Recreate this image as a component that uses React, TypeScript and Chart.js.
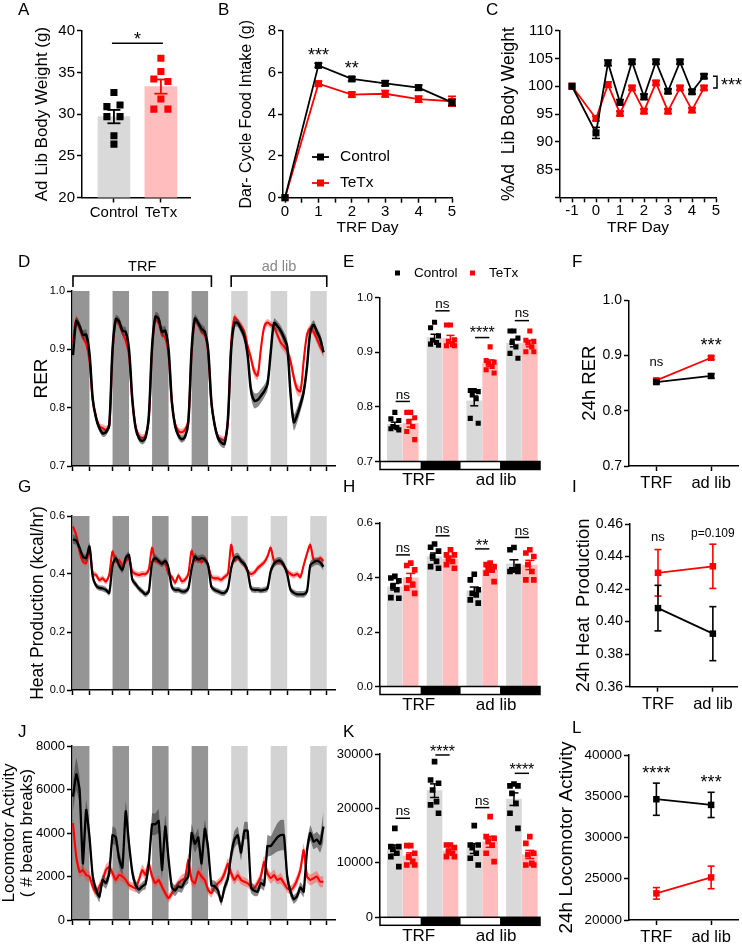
import React, { useEffect, useRef } from 'react';
import { Chart, registerables } from 'chart.js';

Chart.register(...registerables);

const FONT = "'Liberation Sans', Arial, Helvetica, sans-serif";
Chart.defaults.font.family = FONT;
Chart.defaults.color = '#000';

const BLACK = '#000000';
const RED = '#ff0000';
const GRAY_BAR = '#d9d9d9';
const PINK_BAR = '#ffbdbd';
const DARK_BAND = '#959595';
const LIGHT_BAND = '#d3d3d3';
const BLACK_SEM = 'rgba(60,60,60,0.6)';
const RED_SEM = 'rgba(255,60,60,0.45)';

// ---------------- Panel A ----------------
const A_CATS = ['Control', 'TeTx'];
const A_MEAN = [29.7, 33.3];
const A_SEM = [0.8, 0.85];
const A_CTRL = [32.6, 30.9, 31.1, 29.7, 29.7, 27.4, 26.4];
const A_TETX = [36.7, 35.1, 34.2, 33.9, 31.8, 30.6, 30.6];
const A_CTRL_JIT = [0, -0.15, 0.13, -0.15, 0.13, 0, 0];
const A_TETX_JIT = [0, 0, -0.15, 0.15, 0, -0.15, 0.15];
const A_TICKS = [20, 25, 30, 35, 40];

// ---------------- Panel B ----------------
const B_DAYS = [0, 1, 2, 3, 4, 5];
const B_CTRL = [0, 6.34, 5.69, 5.48, 5.27, 4.57];
const B_CTRL_SEM = [0, 0.1, 0.1, 0.12, 0.12, 0.15];
const B_TETX = [0, 5.46, 4.94, 4.98, 4.72, 4.62];
const B_TETX_SEM = [0, 0.12, 0.12, 0.16, 0.15, 0.24];
const B_YTICKS = [0, 2, 4, 6, 8];
const B_XTICKS = [0, 0.5, 1, 1.5, 2, 2.5, 3, 3.5, 4, 4.5, 5];
const B_SIG_X = [1, 2];
const B_SIG_Y = [7.0, 6.35];
const B_SIG = ['***', '**'];

// ---------------- Panel C ----------------
const C_DAYS = [-1, 0, 0.5, 1, 1.5, 2, 2.5, 3, 3.5, 4, 4.5];
const C_CTRL = [100, 91.6, 104.2, 97.1, 104.4, 98.1, 104.4, 99.1, 104.4, 99.0, 101.8];
const C_CTRL_SEM = [0, 1.0, 0.5, 0.5, 0.4, 0.5, 0.4, 0.4, 0.4, 0.4, 0.4];
const C_TETX = [100, 94.2, 100.3, 95.1, 99.7, 95.5, 100.6, 95.5, 99.7, 95.7, 99.7];
const C_TETX_SEM = [0, 0.4, 0.5, 0.4, 0.4, 0.4, 0.4, 0.4, 0.4, 0.4, 0.4];
const C_YTICKS = [80, 85, 90, 95, 100, 105, 110];
const C_XTICKS = [-1.5, -1, -0.5, 0, 0.5, 1, 1.5, 2, 2.5, 3, 3.5, 4, 4.5, 5];

// ---------------- Time series (D, G, J) ----------------
const HOURS = Array.from({ length: 77 }, (_, i) => i * 2);
const BAND_STARTS = [0, 24, 48, 72, 96, 120, 144];
const BAND_HOURS = 10;
const TRF_BANDS = 4;
const BAND_EDGES = BAND_STARTS.flatMap((s) => [s, s + BAND_HOURS]);
const TRF_SPAN = [0, 84];
const ADLIB_SPAN = [96, 154];

const C_RER = [
  0.890, 0.948, 0.940, 0.925, 0.925, 0.893, 0.815, 0.782, 0.765, 0.756, 0.758, 0.770,
  0.900, 0.952, 0.948, 0.932, 0.930, 0.900, 0.815, 0.765, 0.748, 0.743, 0.748, 0.785,
  0.905, 0.956, 0.952, 0.930, 0.932, 0.900, 0.810, 0.768, 0.752, 0.746, 0.750, 0.775,
  0.900, 0.953, 0.945, 0.935, 0.930, 0.900, 0.810, 0.770, 0.748, 0.740, 0.738, 0.780,
  0.900, 0.945, 0.945, 0.935, 0.922, 0.890, 0.830, 0.812, 0.813, 0.820, 0.828, 0.840,
  0.895, 0.945, 0.940, 0.932, 0.920, 0.905, 0.825, 0.775, 0.787, 0.805, 0.827, 0.870,
  0.930, 0.942, 0.930, 0.918, 0.895,
];
const C_RER_SEM = [
  0.008, 0.008, 0.008, 0.008, 0.009, 0.009, 0.008, 0.007, 0.006, 0.006, 0.006, 0.006,
  0.008, 0.007, 0.007, 0.008, 0.008, 0.008, 0.007, 0.006, 0.006, 0.006, 0.006, 0.006,
  0.008, 0.008, 0.009, 0.009, 0.008, 0.008, 0.007, 0.006, 0.006, 0.006, 0.006, 0.006,
  0.008, 0.007, 0.007, 0.008, 0.008, 0.008, 0.007, 0.007, 0.007, 0.007, 0.007, 0.007,
  0.008, 0.007, 0.007, 0.008, 0.009, 0.010, 0.012, 0.013, 0.012, 0.012, 0.011, 0.011,
  0.009, 0.008, 0.008, 0.009, 0.010, 0.012, 0.013, 0.014, 0.013, 0.012, 0.012, 0.011,
  0.009, 0.008, 0.008, 0.009, 0.010,
];
const T_RER = [
  0.912, 0.952, 0.935, 0.920, 0.910, 0.880, 0.812, 0.785, 0.768, 0.765, 0.762, 0.768,
  0.895, 0.950, 0.942, 0.928, 0.915, 0.890, 0.812, 0.768, 0.752, 0.748, 0.752, 0.780,
  0.900, 0.952, 0.945, 0.925, 0.920, 0.890, 0.810, 0.772, 0.760, 0.758, 0.762, 0.778,
  0.895, 0.950, 0.942, 0.930, 0.925, 0.895, 0.808, 0.770, 0.750, 0.746, 0.745, 0.775,
  0.910, 0.955, 0.948, 0.940, 0.930, 0.905, 0.885, 0.862, 0.855, 0.900, 0.938, 0.946,
  0.942, 0.938, 0.925, 0.912, 0.905, 0.897, 0.880, 0.852, 0.832, 0.828, 0.880, 0.925,
  0.936, 0.930, 0.918, 0.905, 0.895,
];
const T_RER_SEM = [
  0.007, 0.007, 0.006, 0.006, 0.006, 0.007, 0.007, 0.006, 0.006, 0.006, 0.007, 0.006,
  0.006, 0.006, 0.006, 0.006, 0.006, 0.006, 0.006, 0.006, 0.006, 0.006, 0.006, 0.006,
  0.006, 0.006, 0.006, 0.006, 0.006, 0.006, 0.006, 0.006, 0.006, 0.006, 0.006, 0.006,
  0.006, 0.006, 0.006, 0.006, 0.006, 0.006, 0.006, 0.006, 0.006, 0.006, 0.006, 0.006,
  0.006, 0.006, 0.006, 0.007, 0.007, 0.008, 0.009, 0.009, 0.008, 0.007, 0.007, 0.006,
  0.006, 0.006, 0.007, 0.008, 0.009, 0.009, 0.010, 0.010, 0.010, 0.009, 0.008, 0.007,
  0.007, 0.007, 0.008, 0.008, 0.008,
];

const C_HEAT = [
  0.520, 0.515, 0.490, 0.460, 0.455, 0.495, 0.390, 0.360, 0.352, 0.350, 0.345, 0.335,
  0.430, 0.455, 0.430, 0.415, 0.455, 0.465, 0.380, 0.365, 0.350, 0.340, 0.330, 0.340,
  0.440, 0.455, 0.445, 0.435, 0.445, 0.420, 0.355, 0.345, 0.345, 0.340, 0.340, 0.350,
  0.420, 0.460, 0.450, 0.455, 0.450, 0.430, 0.355, 0.345, 0.340, 0.335, 0.335, 0.350,
  0.420, 0.455, 0.460, 0.445, 0.435, 0.410, 0.350, 0.345, 0.345, 0.343, 0.345, 0.350,
  0.410, 0.435, 0.445, 0.445, 0.430, 0.400, 0.345, 0.335, 0.330, 0.330, 0.330, 0.340,
  0.430, 0.440, 0.445, 0.440, 0.425,
];
const C_HEAT_SEM = [
  0.016, 0.015, 0.013, 0.012, 0.012, 0.014, 0.011, 0.010, 0.010, 0.010, 0.010, 0.010,
  0.012, 0.012, 0.012, 0.012, 0.012, 0.012, 0.011, 0.011, 0.010, 0.010, 0.010, 0.010,
  0.012, 0.012, 0.012, 0.012, 0.012, 0.012, 0.010, 0.010, 0.010, 0.010, 0.010, 0.010,
  0.012, 0.013, 0.013, 0.013, 0.013, 0.012, 0.010, 0.010, 0.010, 0.010, 0.010, 0.010,
  0.012, 0.013, 0.013, 0.013, 0.012, 0.012, 0.010, 0.010, 0.010, 0.010, 0.010, 0.011,
  0.012, 0.013, 0.013, 0.013, 0.012, 0.012, 0.011, 0.011, 0.011, 0.011, 0.011, 0.011,
  0.013, 0.013, 0.013, 0.013, 0.013,
];
const T_HEAT = [
  0.563, 0.534, 0.477, 0.443, 0.437, 0.489, 0.400, 0.397, 0.379, 0.385, 0.374, 0.397,
  0.477, 0.443, 0.448, 0.431, 0.443, 0.454, 0.408, 0.400, 0.397, 0.400, 0.400, 0.415,
  0.490, 0.445, 0.440, 0.440, 0.435, 0.400, 0.390, 0.370, 0.395, 0.375, 0.380, 0.400,
  0.480, 0.445, 0.455, 0.440, 0.455, 0.430, 0.390, 0.385, 0.385, 0.380, 0.390, 0.400,
  0.500, 0.445, 0.455, 0.445, 0.430, 0.410, 0.400, 0.405, 0.420, 0.430, 0.440, 0.460,
  0.490, 0.445, 0.440, 0.440, 0.430, 0.410, 0.400, 0.395, 0.400, 0.390, 0.430, 0.470,
  0.500, 0.450, 0.445, 0.455, 0.445,
];
const T_HEAT_SEM = [
  0.014, 0.012, 0.011, 0.010, 0.010, 0.011, 0.010, 0.010, 0.010, 0.010, 0.010, 0.010,
  0.011, 0.010, 0.010, 0.010, 0.010, 0.010, 0.010, 0.010, 0.010, 0.010, 0.010, 0.010,
  0.011, 0.010, 0.010, 0.010, 0.010, 0.010, 0.010, 0.010, 0.010, 0.010, 0.010, 0.010,
  0.011, 0.010, 0.010, 0.010, 0.010, 0.010, 0.010, 0.010, 0.010, 0.010, 0.010, 0.010,
  0.011, 0.010, 0.010, 0.010, 0.010, 0.010, 0.010, 0.010, 0.010, 0.010, 0.010, 0.011,
  0.011, 0.010, 0.010, 0.010, 0.010, 0.010, 0.010, 0.010, 0.010, 0.010, 0.010, 0.011,
  0.011, 0.010, 0.010, 0.010, 0.010,
];

const C_LOCO = [
  5670, 6700, 5980, 2600, 5060, 3830, 1990, 1380, 1070, 1840, 1690, 2150,
  3900, 3800, 2800, 2400, 5000, 3500, 2200, 1600, 1400, 1550, 1650, 2600,
  4400, 4400, 4550, 2300, 4300, 2800, 1500, 1350, 1550, 1500, 1800, 2000,
  4000, 3500, 3800, 2600, 4200, 3300, 1600, 1550, 1350, 850, 1500, 1900,
  3000, 3700, 3900, 3100, 4100, 4100, 1500, 1350, 1300, 1700, 1600, 3400,
  3400, 3600, 3800, 3900, 3900, 2000, 1300, 950, 1100, 1500, 1300, 3200,
  4000, 3600, 3700, 3500, 4300,
];
const C_LOCO_SEM = [
  700, 750, 650, 450, 450, 500, 300, 250, 250, 250, 250, 300,
  400, 400, 350, 350, 450, 400, 300, 250, 200, 200, 250, 300,
  500, 500, 550, 400, 500, 400, 250, 250, 250, 250, 250, 300,
  400, 400, 400, 350, 400, 400, 250, 250, 250, 200, 250, 250,
  350, 400, 400, 350, 400, 400, 250, 250, 200, 250, 250, 500,
  450, 550, 650, 700, 700, 300, 250, 200, 200, 250, 250, 400,
  350, 350, 350, 400, 700,
];
const T_LOCO = [
  4450, 2900, 2200, 2300, 2070, 2000, 1530, 1230, 1530, 1840, 2300, 2450,
  2150, 1840, 2070, 2000, 1840, 1610, 1530, 1460, 1840, 2300, 2070, 2600,
  2000, 1690, 1840, 1530, 1230, 1000, 1230, 1460, 1690, 1840, 1920, 2760,
  1840, 1690, 2220, 2000, 1840, 1380, 1230, 1530, 1690, 1840, 2150, 2600,
  2150, 1840, 2070, 1840, 1760, 1690, 1530, 1460, 1690, 2000, 2680, 2150,
  1920, 2070, 1840, 1920, 1690, 1460, 1380, 1530, 1840, 2300, 3220, 2000,
  1840, 1920, 2000, 1760, 1760,
];
const T_LOCO_SEM = [
  300, 300, 250, 250, 250, 250, 200, 200, 200, 250, 250, 250,
  250, 200, 250, 250, 200, 200, 200, 200, 200, 250, 250, 250,
  250, 200, 200, 200, 200, 200, 200, 200, 200, 250, 250, 300,
  250, 200, 250, 250, 200, 200, 200, 200, 200, 200, 250, 250,
  250, 200, 250, 200, 200, 200, 200, 200, 200, 250, 300, 250,
  250, 250, 200, 250, 200, 200, 200, 200, 250, 250, 300, 250,
  250, 250, 250, 250, 250,
];

// ---------------- Grouped bars (E, H, K) ----------------
const GROUPS = [0, 1, 2, 3];
const GROUP_JIT = [0, -0.1, 0.1, -0.05, 0.05, -0.1, 0.1];
const STRIP_EDGES = [-0.574, 0.45, 1.46, 2.45, 3.456];
const STRIP_FILL = ['#ffffff', '#000000', '#ffffff', '#000000'];
const STRIP_LABELS = ['TRF', 'ad lib'];
const STRIP_LABEL_X = [0.4, 2.35];

const E_CTRL_MEAN = [0.768, 0.927, 0.811, 0.917];
const E_TETX_MEAN = [0.770, 0.925, 0.880, 0.916];
const E_CTRL_SEM = [0.004, 0.006, 0.009, 0.007];
const E_TETX_SEM = [0.007, 0.006, 0.006, 0.006];
const E_CTRL_PTS = [
  [0.790, 0.778, 0.775, 0.764, 0.762, 0.760, 0.758],
  [0.955, 0.945, 0.930, 0.922, 0.918, 0.915, 0.913],
  [0.830, 0.830, 0.828, 0.822, 0.815, 0.779, 0.770],
  [0.939, 0.939, 0.926, 0.918, 0.910, 0.898, 0.889],
];
const E_TETX_PTS = [
  [0.790, 0.790, 0.780, 0.773, 0.764, 0.755, 0.740],
  [0.950, 0.950, 0.923, 0.920, 0.914, 0.912, 0.912],
  [0.910, 0.885, 0.882, 0.880, 0.874, 0.868, 0.862],
  [0.939, 0.922, 0.920, 0.917, 0.910, 0.901, 0.901],
];
const E_SIG = ['ns', 'ns', '****', 'ns'];
const E_SIG_LINE = [0.81, 0.976, 0.927, 0.958];
const E_SIG_TEXT = [0.822, 0.988, 0.940, 0.971];
const RER_TICKS = [0.7, 0.8, 0.9, 1.0];

const H_CTRL_MEAN = [0.366, 0.477, 0.351, 0.450];
const H_TETX_MEAN = [0.399, 0.468, 0.429, 0.446];
const H_CTRL_SEM = [0.012, 0.013, 0.014, 0.015];
const H_TETX_SEM = [0.016, 0.009, 0.009, 0.017];
const H_CTRL_PTS = [
  [0.404, 0.398, 0.388, 0.367, 0.355, 0.326, 0.324],
  [0.523, 0.511, 0.497, 0.477, 0.459, 0.440, 0.434],
  [0.412, 0.391, 0.355, 0.342, 0.336, 0.318, 0.306],
  [0.510, 0.502, 0.440, 0.428, 0.428, 0.422, 0.422],
];
const H_TETX_PTS = [
  [0.453, 0.444, 0.428, 0.391, 0.373, 0.361, 0.342],
  [0.502, 0.483, 0.483, 0.471, 0.459, 0.447, 0.434],
  [0.453, 0.447, 0.440, 0.434, 0.428, 0.416, 0.385],
  [0.502, 0.490, 0.477, 0.447, 0.422, 0.391, 0.391],
];
const H_SIG = ['ns', 'ns', '**', 'ns'];
const H_SIG_LINE = [0.483, 0.553, 0.505, 0.547];
const H_SIG_TEXT = [0.506, 0.577, 0.528, 0.571];
const HEAT_TICKS = [0, 0.2, 0.4, 0.6];

const K_CTRL_MEAN = [12430, 23260, 12630, 21700];
const K_TETX_MEAN = [11240, 12210, 13860, 11540];
const K_CTRL_SEM = [850, 1250, 900, 1150];
const K_TETX_SEM = [600, 350, 1000, 750];
const K_CTRL_PTS = [
  [16350, 12980, 12980, 12490, 11760, 11150, 9310],
  [28600, 25230, 24620, 23390, 21250, 20640, 19110],
  [16840, 13290, 13290, 12800, 11760, 10840, 9610],
  [24490, 24130, 24130, 22780, 20940, 19110, 16350],
];
const K_TETX_PTS = [
  [13170, 13170, 11760, 11150, 10230, 9610, 9610],
  [13290, 13290, 12800, 12060, 11760, 11150, 11150],
  [18490, 14820, 14510, 13900, 13290, 11760, 10230],
  [14820, 13590, 11760, 11500, 9920, 9610, 9610],
];
const K_SIG = ['ns', '****', 'ns', '****'];
const K_SIG_LINE = [18190, 29820, 20150, 26450];
const K_SIG_TEXT = [19500, 30900, 21400, 27600];
const K_TICKS = [0, 10000, 20000, 30000];
const LOCO_TICKS = [0, 2000, 4000, 6000, 8000];

// ---------------- 24h panels (F, I, L) ----------------
const PAIR_CATS = ['TRF', 'ad lib'];
const PAIR_X = [0, 1];
const F_CTRL = [0.852, 0.863];
const F_CTRL_SEM = [0.003, 0.004];
const F_TETX = [0.855, 0.896];
const F_TETX_SEM = [0.003, 0.003];
const F_SIG = ['ns', '***'];
const F_SIG_Y = [0.888, 0.924];

const I_CTRL = [0.4083, 0.3926];
const I_CTRL_SEM = [0.014, 0.0166];
const I_TETX = [0.430, 0.434];
const I_TETX_SEM = [0.0143, 0.0136];
const I_SIG = ['ns', 'p=0.109'];
const I_SIG_Y = [0.452, 0.4538];
const I_TICKS = [0.36, 0.38, 0.40, 0.42, 0.44, 0.46];

const L_CTRL = [34640, 33950];
const L_CTRL_SEM = [1950, 1530];
const L_TETX = [23230, 25160];
const L_TETX_SEM = [700, 1370];
const L_SIG = ['****', '***'];
const L_SIG_Y = [38190, 37060];
const L_TICKS = [20000, 25000, 30000, 35000, 40000];

// ================= helpers =================
type Geo = { cx: number; cy: number; cw: number; ch: number; l: number; t: number; r: number; b: number };

function drawText(ctx: any, s: string, x: number, y: number, size: number, color = '#000', align = 'center') {
  ctx.save();
  ctx.font = `${size}px ${FONT}`;
  ctx.fillStyle = color;
  ctx.textAlign = align;
  ctx.textBaseline = 'middle';
  const off = /^\*+$/.test(s) ? size * 0.22 : 0;
  ctx.fillText(s, x, y + off);
  ctx.restore();
}
function drawLine(ctx: any, pts: number[][], w = 1.5, color = '#000') {
  ctx.save();
  ctx.strokeStyle = color;
  ctx.lineWidth = w;
  ctx.beginPath();
  pts.forEach(([x, y], i) => (i ? ctx.lineTo(x, y) : ctx.moveTo(x, y)));
  ctx.stroke();
  ctx.restore();
}
function drawErr(ctx: any, x: number, yHi: number, yLo: number, cap: number, color: string, w = 1.5) {
  drawLine(ctx, [[x, yHi], [x, yLo]], w, color);
  drawLine(ctx, [[x - cap, yHi], [x + cap, yHi]], w, color);
  drawLine(ctx, [[x - cap, yLo], [x + cap, yLo]], w, color);
}

function axis(o: any) {
  const isX = o.axis === 'x';
  const ts = o.titleSize ?? 12;
  const lh = (o.titleLH ?? 1.2) * ts;
  const pad = Math.max(0, (o.titlePos ?? 0) - lh / 2);
  return {
    type: 'linear',
    position: isX ? 'bottom' : 'left',
    min: o.min,
    max: o.max,
    bounds: 'data',
    offset: false,
    afterBuildTicks: (s: any) => {
      s.ticks = o.ticks.map((v: number) => ({ value: v }));
    },
    afterFit: (s: any) => {
      if (isX) s.height = o.thick;
      else s.width = o.thick;
    },
    ticks: {
      autoSkip: false,
      maxRotation: 0,
      minRotation: 0,
      padding: o.labelPad ?? 2,
      color: '#000',
      font: { size: o.size ?? 12, family: FONT },
      callback: (v: any) => o.fmt(Number(v)),
    },
    grid: {
      display: !o.noTicks,
      drawOnChartArea: false,
      drawTicks: true,
      tickLength: 5,
      tickWidth: 1.5,
      tickColor: '#000',
      offset: false,
    },
    border: { display: !o.noBorder, color: '#000', width: 1.5 },
    title: o.title
      ? {
          display: true,
          text: o.title,
          color: '#000',
          font: { size: ts, family: FONT, lineHeight: o.titleLH ?? 1.2 },
          padding: isX ? { top: 0, bottom: pad } : { top: pad, bottom: 0 },
        }
      : { display: false },
  };
}

function opts(g: Geo, x: any, y: any) {
  return {
    responsive: false,
    maintainAspectRatio: false,
    animation: false,
    devicePixelRatio: 1,
    events: [],
    layout: { autoPadding: false, padding: { left: 0, top: g.t - g.cy, right: g.cx + g.cw - g.r, bottom: 0 } },
    plugins: { legend: { display: false }, tooltip: { enabled: false } },
    scales: { x, y },
  };
}

const xh = (g: Geo) => g.cy + g.ch - g.b;
const yw = (g: Geo) => g.l - g.cx;
const fmtInt = (v: number) => (Number.isInteger(v) ? String(v) : '');

// ================= Panel builders =================
function lineSeries(xs: number[], ys: number[], color: string, r: number, lw: number, order: number) {
  return {
    type: 'line',
    data: xs.map((x, i) => ({ x, y: ys[i] })),
    borderColor: color,
    backgroundColor: color,
    borderWidth: lw,
    pointStyle: 'rect',
    pointRadius: r,
    pointBorderWidth: 0,
    pointBackgroundColor: color,
    tension: 0,
    fill: false,
    clip: false,
    order,
  };
}

function errPlugin(xs: number[], series: { y: number[]; s: number[]; color: string }[], cap: number, w: number) {
  return (c: any) => {
    const X = c.scales.x, Y = c.scales.y;
    series.forEach((se) =>
      xs.forEach((x, i) => {
        if (!se.s[i]) return;
        drawErr(c.ctx, X.getPixelForValue(x), Y.getPixelForValue(se.y[i] + se.s[i]), Y.getPixelForValue(se.y[i] - se.s[i]), cap, se.color, w);
      })
    );
  };
}

const GEO_A: Geo = { cx: 0, cy: 0, cw: 200, ch: 235, l: 82, t: 30.7, r: 190, b: 197.5 };
function makeA(g: Geo) {
  const x = axis({ axis: 'x', min: -0.68, max: 1.62, ticks: [0, 1], fmt: (v: number) => A_CATS[Math.round(v)] ?? '', size: 15, thick: xh(g), labelPad: 1 });
  const y = axis({ axis: 'y', min: 20, max: 40, ticks: A_TICKS, fmt: String, size: 15, thick: yw(g), title: 'Ad Lib Body Weight (g)', titleSize: 17, titlePos: 42 - g.cx });
  return {
    type: 'scatter',
    data: {
      datasets: [
        { type: 'scatter', data: A_CTRL.map((v, i) => ({ x: 0 + A_CTRL_JIT[i], y: v })), pointStyle: 'rect', pointRadius: 5, backgroundColor: BLACK, borderWidth: 0, order: 1 },
        { type: 'scatter', data: A_TETX.map((v, i) => ({ x: 1 + A_TETX_JIT[i], y: v })), pointStyle: 'rect', pointRadius: 5, backgroundColor: RED, borderWidth: 0, order: 1 },
        { type: 'bar', data: [{ x: 0, y: A_MEAN[0] }, { x: 1, y: A_MEAN[1] }], backgroundColor: [GRAY_BAR, PINK_BAR], barThickness: 32, borderWidth: 0, order: 5 },
      ],
    },
    options: opts(g, x, y),
    plugins: [
      {
        id: 'pa',
        afterDatasetsDraw: (c: any) => {
          const X = c.scales.x, Y = c.scales.y, ctx = c.ctx;
          [BLACK, RED].forEach((col, i) => drawErr(ctx, X.getPixelForValue(i), Y.getPixelForValue(A_MEAN[i] + A_SEM[i]), Y.getPixelForValue(A_MEAN[i] - A_SEM[i]), 6.5, col, 1.8));
          drawLine(ctx, [[X.getPixelForValue(0) - 2, Y.getPixelForValue(38.5)], [X.getPixelForValue(1) + 2, Y.getPixelForValue(38.5)]], 1.5);
          drawText(ctx, '*', (X.getPixelForValue(0) + X.getPixelForValue(1)) / 2, Y.getPixelForValue(39.4), 18);
        },
      },
    ],
  };
}

const GEO_B: Geo = { cx: 220, cy: 0, cw: 240, ch: 240, l: 283, t: 30.7, r: 452, b: 197.7 };
function makeB(g: Geo) {
  const x = axis({ axis: 'x', min: -0.06, max: 5, ticks: B_XTICKS, fmt: fmtInt, size: 15, thick: xh(g), labelPad: 0, title: 'TRF Day', titleSize: 15.5, titlePos: g.cy + g.ch - 228 });
  const y = axis({ axis: 'y', min: 0, max: 8, ticks: B_YTICKS, fmt: String, size: 15, thick: yw(g), title: 'Dar- Cycle Food Intake (g)', titleSize: 16, titlePos: 247 - g.cx });
  return {
    type: 'scatter',
    data: { datasets: [lineSeries(B_DAYS, B_CTRL, BLACK, 5, 1.8, 0), lineSeries(B_DAYS, B_TETX, RED, 5, 1.8, 1)] },
    options: opts(g, x, y),
    plugins: [
      {
        id: 'pb',
        beforeDatasetsDraw: errPlugin(B_DAYS, [{ y: B_TETX, s: B_TETX_SEM, color: RED }, { y: B_CTRL, s: B_CTRL_SEM, color: BLACK }], 4, 1.5),
        afterDraw: (c: any) => {
          const X = c.scales.x, Y = c.scales.y, ctx = c.ctx;
          B_SIG.forEach((s, i) => drawText(ctx, s, X.getPixelForValue(B_SIG_X[i]), Y.getPixelForValue(B_SIG_Y[i]), 18));
          const x0 = c.chartArea.left + 29;
          [[157 - g.cy, BLACK, 'Control'], [183 - g.cy, RED, 'TeTx']].forEach(([yy, col, lab]: any) => {
            drawLine(ctx, [[x0, yy], [x0 + 17, yy]], 1.8, col);
            ctx.fillStyle = col;
            ctx.fillRect(x0 + 5, yy - 3.5, 7, 7);
            drawText(ctx, lab, x0 + 28, yy, 15.5, '#000', 'left');
          });
        },
      },
    ],
  };
}

const GEO_C: Geo = { cx: 490, cy: 0, cw: 252, ch: 240, l: 560, t: 30.7, r: 716, b: 197.3 };
function makeC(g: Geo) {
  const x = axis({ axis: 'x', min: -1.5, max: 5, ticks: C_XTICKS, fmt: fmtInt, size: 15, thick: xh(g), labelPad: 0, title: 'TRF Day', titleSize: 15.5, titlePos: g.cy + g.ch - 228 });
  const y = axis({ axis: 'y', min: 80, max: 110, ticks: C_YTICKS, fmt: (v: number) => (v === 80 ? '' : String(v)), size: 15, thick: yw(g), title: '%Ad  Lib Body Weight', titleSize: 17.5, titlePos: 509 - g.cx });
  const last = C_DAYS.length - 1;
  return {
    type: 'scatter',
    data: { datasets: [lineSeries(C_DAYS, C_CTRL, BLACK, 5, 1.8, 0), lineSeries(C_DAYS, C_TETX, RED, 5, 1.8, 1)] },
    options: opts(g, x, y),
    plugins: [
      {
        id: 'pc',
        beforeDatasetsDraw: errPlugin(C_DAYS, [{ y: C_TETX, s: C_TETX_SEM, color: RED }, { y: C_CTRL, s: C_CTRL_SEM, color: BLACK }], 4, 1.5),
        afterDraw: (c: any) => {
          const X = c.scales.x, Y = c.scales.y, ctx = c.ctx;
          const bx = X.getPixelForValue(5) + 1;
          const y1 = Y.getPixelForValue(C_CTRL[last]), y2 = Y.getPixelForValue(C_TETX[last]);
          drawLine(ctx, [[bx - 4, y1], [bx, y1], [bx, y2], [bx - 4, y2]], 1.5);
          drawText(ctx, '***', bx + 4, (y1 + y2) / 2, 18, '#000', 'left');
        },
      },
    ],
  };
}

function timeSeries(g: Geo, y: any, ctrl: number[], cs: number[], tetx: number[], ts: number[], tension: number, lwC: number, lwT: number, brackets: boolean) {
  const x = axis({ axis: 'x', min: -0.6, max: 159, ticks: BAND_EDGES, fmt: () => '', size: 10, thick: xh(g) });
  const pts = (a: number[], s?: number[], sign = 0) => a.map((v, i) => ({ x: HOURS[i], y: s ? v + sign * s[i] : v }));
  const base = { type: 'line', pointRadius: 0, tension, fill: false, borderColor: 'rgba(0,0,0,0)', borderWidth: 1 };
  return {
    type: 'scatter',
    data: {
      datasets: [
        { ...base, data: pts(ctrl), borderColor: BLACK, borderWidth: lwC, order: 0 },
        { ...base, data: pts(ctrl, cs, -1), order: 1 },
        { ...base, data: pts(ctrl, cs, 1), order: 1, fill: '-1', backgroundColor: BLACK_SEM },
        { ...base, data: pts(tetx), borderColor: RED, borderWidth: lwT, order: 2 },
        { ...base, data: pts(tetx, ts, -1), order: 3 },
        { ...base, data: pts(tetx, ts, 1), order: 3, fill: '-1', backgroundColor: RED_SEM },
      ],
    },
    options: opts(g, x, y),
    plugins: [
      {
        id: 'bands',
        beforeDraw: (c: any) => {
          const { ctx, chartArea: a } = c;
          const X = c.scales.x;
          BAND_STARTS.forEach((s, i) => {
            const x1 = X.getPixelForValue(s), x2 = X.getPixelForValue(s + BAND_HOURS);
            ctx.save();
            ctx.fillStyle = i < TRF_BANDS ? DARK_BAND : LIGHT_BAND;
            ctx.fillRect(x1, a.top, x2 - x1, a.bottom - a.top);
            ctx.restore();
          });
        },
        afterDraw: (c: any) => {
          if (!brackets) return;
          const ctx = c.ctx, X = c.scales.x, top = c.chartArea.top;
          const yb = top - 15, yt = top - 4;
          [[TRF_SPAN, 'TRF', '#000', '#000'], [ADLIB_SPAN, 'ad lib', '#000', '#888']].forEach(([sp, lab, lc, tc]: any) => {
            const a = X.getPixelForValue(sp[0]), b = X.getPixelForValue(sp[1]);
            drawLine(ctx, [[a, yt], [a, yb], [b, yb], [b, yt]], 1.6, lc);
            drawText(ctx, lab, (a + b) / 2, top - 24, 14.5, tc);
          });
        },
      },
    ],
  };
}

const GEO_D: Geo = { cx: 0, cy: 255, cw: 345, ch: 225, l: 72, t: 291, r: 335, b: 466 };
function makeD(g: Geo) {
  const y = axis({ axis: 'y', min: 0.7, max: 1.0, ticks: RER_TICKS, fmt: (v: number) => v.toFixed(1), size: 11, thick: yw(g), title: 'RER', titleSize: 19, titlePos: 42 - g.cx });
  return timeSeries(g, y, C_RER, C_RER_SEM, T_RER, T_RER_SEM, 0.3, 2.5, 2.1, true);
}
const GEO_G: Geo = { cx: 0, cy: 475, cw: 345, ch: 225, l: 72, t: 516, r: 335, b: 690 };
function makeG(g: Geo) {
  const y = axis({ axis: 'y', min: 0, max: 0.6, ticks: HEAT_TICKS, fmt: (v: number) => v.toFixed(1), size: 11, thick: yw(g), title: 'Heat Production (kcal/hr)', titleSize: 17.5, titlePos: 38 - g.cx });
  return timeSeries(g, y, C_HEAT, C_HEAT_SEM, T_HEAT, T_HEAT_SEM, 0.25, 2.3, 2.1, false);
}
const GEO_J: Geo = { cx: 0, cy: 700, cw: 345, ch: 244, l: 72, t: 746, r: 335, b: 920 };
function makeJ(g: Geo) {
  const y = axis({ axis: 'y', min: 0, max: 8000, ticks: LOCO_TICKS, fmt: String, size: 13, thick: yw(g), title: ['Locomotor Activity', '( # beam breaks)'], titleSize: 17, titleLH: 1.05, titlePos: 9 - g.cx });
  return timeSeries(g, y, C_LOCO, C_LOCO_SEM, T_LOCO, T_LOCO_SEM, 0.15, 2.3, 2.1, false);
}

function groupBars(g: Geo, y: any, cm: number[], tm: number[], cs: number[], tsm: number[], cp: number[][], tp: number[][], sig: string[], sigLine: number[], sigText: number[], r: number, cap: number, legend: boolean) {
  const OFF = 0.2;
  const x = axis({ axis: 'x', min: -0.574, max: 3.456, ticks: [], fmt: () => '', size: 10, thick: xh(g), noTicks: true, noBorder: true });
  const barData: any[] = [];
  const colors: string[] = [];
  GROUPS.forEach((gx, i) => {
    barData.push({ x: gx - OFF, y: cm[i] });
    colors.push(GRAY_BAR);
    barData.push({ x: gx + OFF, y: tm[i] });
    colors.push(PINK_BAR);
  });
  const cPts: any[] = [], tPts: any[] = [];
  GROUPS.forEach((gx, i) => {
    cp[i].forEach((v, j) => cPts.push({ x: gx - OFF + GROUP_JIT[j], y: v }));
    tp[i].forEach((v, j) => tPts.push({ x: gx + OFF + GROUP_JIT[j], y: v }));
  });
  return {
    type: 'scatter',
    data: {
      datasets: [
        { type: 'scatter', data: cPts, pointStyle: 'rect', pointRadius: r, backgroundColor: BLACK, borderWidth: 0, order: 1 },
        { type: 'scatter', data: tPts, pointStyle: 'rect', pointRadius: r, backgroundColor: RED, borderWidth: 0, order: 1 },
        { type: 'bar', data: barData, backgroundColor: colors, barThickness: 15, borderWidth: 0, order: 5 },
      ],
    },
    options: opts(g, x, y),
    plugins: [
      {
        id: 'gb',
        afterDatasetsDraw: (c: any) => {
          const X = c.scales.x, Y = c.scales.y, ctx = c.ctx;
          GROUPS.forEach((gx, i) => {
            drawErr(ctx, X.getPixelForValue(gx - OFF), Y.getPixelForValue(cm[i] + cs[i]), Y.getPixelForValue(cm[i] - cs[i]), cap, BLACK, 1.5);
            drawErr(ctx, X.getPixelForValue(gx + OFF), Y.getPixelForValue(tm[i] + tsm[i]), Y.getPixelForValue(tm[i] - tsm[i]), cap, RED, 1.5);
          });
        },
        afterDraw: (c: any) => {
          const X = c.scales.x, Y = c.scales.y, ctx = c.ctx, a = c.chartArea;
          GROUPS.forEach((gx, i) => {
            const yl = Y.getPixelForValue(sigLine[i]);
            drawLine(ctx, [[X.getPixelForValue(gx - 0.18), yl], [X.getPixelForValue(gx + 0.18), yl]], 1.5);
            drawText(ctx, sig[i], X.getPixelForValue(gx), Y.getPixelForValue(sigText[i]), /^\*+$/.test(sig[i]) ? 16 : 13.5);
          });
          const top = a.bottom, h = 8;
          STRIP_FILL.forEach((f, k) => {
            const x1 = X.getPixelForValue(STRIP_EDGES[k]), x2 = X.getPixelForValue(STRIP_EDGES[k + 1]);
            ctx.fillStyle = f;
            ctx.fillRect(x1, top, x2 - x1, h);
          });
          ctx.save();
          ctx.strokeStyle = '#000';
          ctx.lineWidth = 1.5;
          const sx1 = X.getPixelForValue(STRIP_EDGES[0]), sx2 = X.getPixelForValue(STRIP_EDGES[STRIP_EDGES.length - 1]);
          ctx.strokeRect(sx1, top, sx2 - sx1, h);
          ctx.restore();
          STRIP_LABELS.forEach((lab, k) => drawText(ctx, lab, X.getPixelForValue(STRIP_LABEL_X[k]), top + h + 11, 17));
          if (legend) {
            const ly = 273 - g.cy;
            ctx.fillStyle = BLACK;
            ctx.fillRect(395 - g.cx, ly - 2.5, 5, 5);
            drawText(ctx, 'Control', 414 - g.cx, ly, 13.5, '#000', 'left');
            ctx.fillStyle = RED;
            ctx.fillRect(470 - g.cx, ly - 2.5, 5, 5);
            drawText(ctx, 'TeTx', 489 - g.cx, ly, 13.5, '#000', 'left');
          }
        },
      },
    ],
  };
}

const GEO_E: Geo = { cx: 345, cy: 255, cw: 205, ch: 240, l: 380, t: 297.7, r: 540, b: 461.5 };
function makeE(g: Geo) {
  const y = axis({ axis: 'y', min: 0.7, max: 1.0, ticks: RER_TICKS, fmt: (v: number) => v.toFixed(1), size: 11.5, thick: yw(g) });
  return groupBars(g, y, E_CTRL_MEAN, E_TETX_MEAN, E_CTRL_SEM, E_TETX_SEM, E_CTRL_PTS, E_TETX_PTS, E_SIG, E_SIG_LINE, E_SIG_TEXT, 3.6, 4, true);
}
const GEO_H: Geo = { cx: 345, cy: 480, cw: 205, ch: 235, l: 380, t: 523, r: 540, b: 686.5 };
function makeH(g: Geo) {
  const y = axis({ axis: 'y', min: 0, max: 0.6, ticks: HEAT_TICKS, fmt: (v: number) => v.toFixed(1), size: 11.5, thick: yw(g) });
  return groupBars(g, y, H_CTRL_MEAN, H_TETX_MEAN, H_CTRL_SEM, H_TETX_SEM, H_CTRL_PTS, H_TETX_PTS, H_SIG, H_SIG_LINE, H_SIG_TEXT, 4, 4.5, false);
}
const GEO_K: Geo = { cx: 328, cy: 720, cw: 222, ch: 224, l: 380, t: 754, r: 540, b: 917.3 };
function makeK(g: Geo) {
  const y = axis({ axis: 'y', min: 0, max: 30000, ticks: K_TICKS, fmt: String, size: 13, thick: yw(g) });
  return groupBars(g, y, K_CTRL_MEAN, K_TETX_MEAN, K_CTRL_SEM, K_TETX_SEM, K_CTRL_PTS, K_TETX_PTS, K_SIG, K_SIG_LINE, K_SIG_TEXT, 4, 4.5, false);
}

function pairChart(g: Geo, y: any, xmin: number, xmax: number, ctrl: number[], cs: number[], tetx: number[], ts: number[], sig: string[], sigY: number[], sigSizes: number[], cap: number) {
  const x = axis({ axis: 'x', min: xmin, max: xmax, ticks: PAIR_X, fmt: (v: number) => PAIR_CATS[Math.round(v)] ?? '', size: 16.5, thick: xh(g), labelPad: 3 });
  return {
    type: 'scatter',
    data: { datasets: [lineSeries(PAIR_X, ctrl, BLACK, 4.6, 1.8, 0), lineSeries(PAIR_X, tetx, RED, 4.6, 1.8, 1)] },
    options: opts(g, x, y),
    plugins: [
      {
        id: 'pair',
        beforeDatasetsDraw: errPlugin(PAIR_X, [{ y: tetx, s: ts, color: RED }, { y: ctrl, s: cs, color: BLACK }], cap, 1.6),
        afterDraw: (c: any) => {
          const X = c.scales.x, Y = c.scales.y;
          sig.forEach((s, i) => drawText(c.ctx, s, X.getPixelForValue(PAIR_X[i]), Y.getPixelForValue(sigY[i]), sigSizes[i]));
        },
      },
    ],
  };
}

const GEO_F: Geo = { cx: 560, cy: 255, cw: 182, ch: 240, l: 629, t: 300.3, r: 738.5, b: 466 };
function makeF(g: Geo) {
  const y = axis({ axis: 'y', min: 0.7, max: 1.0, ticks: RER_TICKS, fmt: (v: number) => v.toFixed(1), size: 14, thick: yw(g), title: '24h RER', titleSize: 18.5, titlePos: 590 - g.cx });
  return pairChart(g, y, -0.5, 1.5, F_CTRL, F_CTRL_SEM, F_TETX, F_TETX_SEM, F_SIG, F_SIG_Y, [13, 18], 3.5);
}
const GEO_I: Geo = { cx: 560, cy: 480, cw: 182, ch: 235, l: 630, t: 524, r: 737, b: 686.7 };
function makeI(g: Geo) {
  const y = axis({ axis: 'y', min: 0.36, max: 0.46, ticks: I_TICKS, fmt: (v: number) => v.toFixed(2), size: 14, thick: yw(g), title: '24h Heat  Production', titleSize: 18.5, titlePos: 584 - g.cx });
  return pairChart(g, y, -0.51, 1.44, I_CTRL, I_CTRL_SEM, I_TETX, I_TETX_SEM, I_SIG, I_SIG_Y, [13, 12], 3.5);
}
const GEO_L: Geo = { cx: 555, cy: 720, cw: 187, ch: 224, l: 629, t: 755, r: 738.5, b: 920 };
function makeL(g: Geo) {
  const y = axis({ axis: 'y', min: 20000, max: 40000, ticks: L_TICKS, fmt: String, size: 13.5, thick: yw(g), title: '24h Locomotor Activity', titleSize: 19, titlePos: 567 - g.cx });
  return pairChart(g, y, -0.5, 1.5, L_CTRL, L_CTRL_SEM, L_TETX, L_TETX_SEM, L_SIG, L_SIG_Y, [18, 18], 3.5);
}

function ChartBox({ g, make }: { g: Geo; make: (g: Geo) => any }) {
  const ref = useRef<HTMLCanvasElement | null>(null);
  useEffect(() => {
    if (!ref.current) return;
    const chart = new Chart(ref.current, make(g));
    return () => chart.destroy();
  }, []);
  return <canvas ref={ref} width={g.cw} height={g.ch} style={{ position: 'absolute', left: g.cx, top: g.cy, width: g.cw, height: g.ch }} />;
}

const LETTERS: [string, number, number][] = [
  ['A', 18, 15], ['B', 218, 15], ['C', 486, 15],
  ['D', 18, 267], ['E', 343, 267], ['F', 572, 267],
  ['G', 18, 492], ['H', 343, 492], ['I', 572, 492],
  ['J', 18, 737], ['K', 343, 737], ['L', 572, 733],
];

const PANELS: [Geo, (g: Geo) => any][] = [
  [GEO_A, makeA], [GEO_B, makeB], [GEO_C, makeC],
  [GEO_D, makeD], [GEO_E, makeE], [GEO_F, makeF],
  [GEO_G, makeG], [GEO_H, makeH], [GEO_I, makeI],
  [GEO_J, makeJ], [GEO_K, makeK], [GEO_L, makeL],
];

export default function App() {
  return (
    <div style={{ position: 'absolute', left: 0, top: 0, width: 742, height: 944, background: '#fff', overflow: 'hidden', fontFamily: FONT }}>
      {PANELS.map(([g, mk], i) => (
        <ChartBox key={i} g={g} make={mk} />
      ))}
      {LETTERS.map(([t, x, b]) => (
        <div key={t} style={{ position: 'absolute', left: x, top: b - 14.4, fontSize: 17, lineHeight: '17px', fontFamily: FONT, color: '#000' }}>
          {t}
        </div>
      ))}
    </div>
  );
}
